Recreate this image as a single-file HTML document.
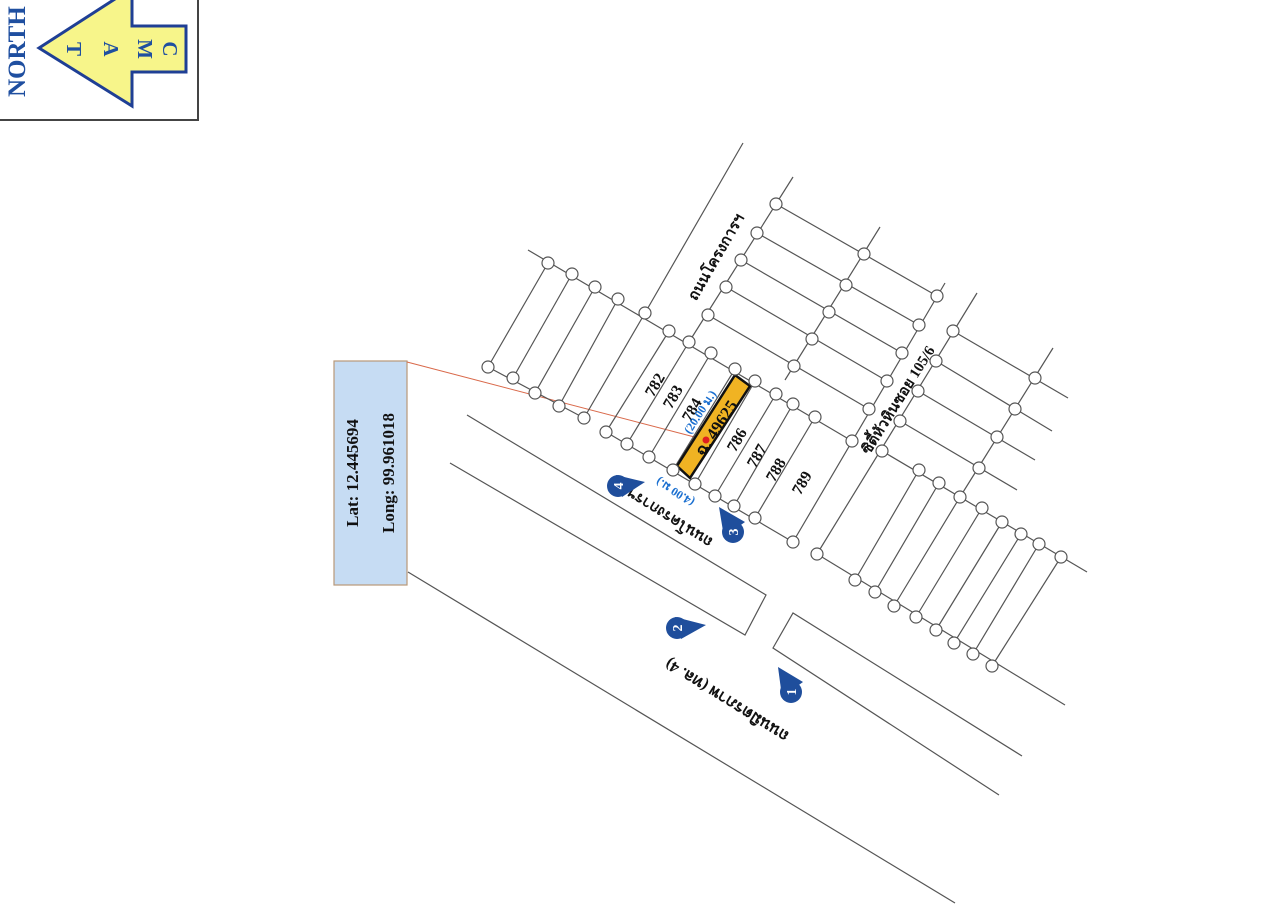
<!DOCTYPE html>
<html><head><meta charset="utf-8"><style>
html,body{margin:0;padding:0;background:#fff;}
svg{display:block;}
text{font-family:"Liberation Serif","Noto Serif CJK SC",serif;font-weight:bold;}
</style></head><body>
<svg width="1280" height="914" viewBox="0 0 1280 914" xmlns="http://www.w3.org/2000/svg">
<rect width="1280" height="914" fill="#fff"/>
<path d="M198 0 V120 H0" fill="none" stroke="#444" stroke-width="2"/>
<text transform="translate(25,97) rotate(-90)" font-size="25" fill="#1f4fa0">NORTH</text>
<polygon points="39,48 132,-12 132,26 186,26 186,72 132,72 132,106" fill="#f7f58a" stroke="#1f3f95" stroke-width="3"/>
<g fill="#1f4fa0" font-size="21">
<text transform="translate(67,49) rotate(90)" text-anchor="middle">T</text>
<text transform="translate(104,49) rotate(90)" text-anchor="middle">A</text>
<text transform="translate(138,49) rotate(90)" text-anchor="middle">M</text>
<text transform="translate(163,49) rotate(90)" text-anchor="middle">C</text>
</g>
<rect x="334" y="361" width="73" height="224" fill="#c6dcf3" stroke="#b89878" stroke-width="1.2"/>
<text transform="translate(358,473) rotate(-90)" text-anchor="middle" font-size="17" fill="#111">Lat: 12.445694</text>
<text transform="translate(394,473) rotate(-90)" text-anchor="middle" font-size="17" fill="#111">Long: 99.961018</text>
<line x1="407" y1="362" x2="706" y2="440" stroke="#d9694a" stroke-width="1"/>

<g stroke="#555" stroke-width="1.2" fill="none">
<polyline points="467,415 766,595 745,635 450,463"/>
<line x1="408" y1="572" x2="955" y2="903"/>
<polyline points="1022,756 793,613 773,648 999,795"/>
<line x1="743" y1="143" x2="645" y2="313"/>
<line x1="528" y1="250" x2="852" y2="441"/>
<line x1="488" y1="367" x2="584" y2="418"/>
<line x1="548" y1="263" x2="488" y2="367"/>
<line x1="572" y1="274" x2="513" y2="378"/>
<line x1="595" y1="287" x2="535" y2="393"/>
<line x1="618" y1="299" x2="559" y2="406"/>
<line x1="645" y1="313" x2="584" y2="418"/>
<line x1="606" y1="432" x2="793" y2="542"/>
<line x1="669" y1="331" x2="606" y2="432"/>
<line x1="689" y1="342" x2="627" y2="444"/>
<line x1="711" y1="353" x2="649" y2="457"/>
<line x1="735" y1="369" x2="673" y2="470"/>
<line x1="755" y1="381" x2="695" y2="484"/>
<line x1="776" y1="394" x2="715" y2="496"/>
<line x1="793" y1="404" x2="734" y2="506"/>
<line x1="815" y1="417" x2="755" y2="518"/>
<line x1="793" y1="177" x2="689" y2="342"/>
<line x1="880" y1="227" x2="785" y2="380"/>
<line x1="945" y1="283" x2="793" y2="542"/>
<line x1="776" y1="204" x2="937" y2="296"/>
<line x1="757" y1="233" x2="919" y2="325"/>
<line x1="741" y1="260" x2="902" y2="353"/>
<line x1="726" y1="287" x2="887" y2="381"/>
<line x1="708" y1="315" x2="869" y2="409"/>
<line x1="977" y1="293" x2="817" y2="554"/>
<line x1="1053" y1="348" x2="960" y2="497"/>
<line x1="953" y1="331" x2="1068" y2="398"/>
<line x1="936" y1="361" x2="1052" y2="431"/>
<line x1="918" y1="391" x2="1035" y2="460"/>
<line x1="900" y1="421" x2="1017" y2="490"/>
<line x1="882" y1="451" x2="1087" y2="572"/>
<line x1="817" y1="554" x2="1065" y2="705"/>
<line x1="919" y1="470" x2="855" y2="580"/>
<line x1="939" y1="483" x2="875" y2="592"/>
<line x1="960" y1="497" x2="894" y2="606"/>
<line x1="982" y1="508" x2="916" y2="617"/>
<line x1="1002" y1="522" x2="936" y2="630"/>
<line x1="1021" y1="534" x2="954" y2="643"/>
<line x1="1039" y1="544" x2="973" y2="654"/>
<line x1="1061" y1="557" x2="992" y2="666"/>
</g>
<polygon points="735,375 750,386 690,478 677,466" fill="#f0b323" stroke="#111" stroke-width="2.5"/>
<g fill="#fff" stroke="#555" stroke-width="1.2">
<circle cx="548" cy="263" r="6"/><circle cx="572" cy="274" r="6"/><circle cx="595" cy="287" r="6"/><circle cx="618" cy="299" r="6"/><circle cx="645" cy="313" r="6"/>
<circle cx="488" cy="367" r="6"/><circle cx="513" cy="378" r="6"/><circle cx="535" cy="393" r="6"/><circle cx="559" cy="406" r="6"/><circle cx="584" cy="418" r="6"/>
<circle cx="669" cy="331" r="6"/><circle cx="689" cy="342" r="6"/><circle cx="711" cy="353" r="6"/><circle cx="735" cy="369" r="6"/><circle cx="755" cy="381" r="6"/><circle cx="776" cy="394" r="6"/><circle cx="793" cy="404" r="6"/><circle cx="815" cy="417" r="6"/>
<circle cx="606" cy="432" r="6"/><circle cx="627" cy="444" r="6"/><circle cx="649" cy="457" r="6"/><circle cx="673" cy="470" r="6"/><circle cx="695" cy="484" r="6"/><circle cx="715" cy="496" r="6"/><circle cx="734" cy="506" r="6"/><circle cx="755" cy="518" r="6"/><circle cx="793" cy="542" r="6"/>
<circle cx="776" cy="204" r="6"/><circle cx="757" cy="233" r="6"/><circle cx="741" cy="260" r="6"/><circle cx="726" cy="287" r="6"/><circle cx="708" cy="315" r="6"/>
<circle cx="864" cy="254" r="6"/><circle cx="846" cy="285" r="6"/><circle cx="829" cy="312" r="6"/><circle cx="812" cy="339" r="6"/><circle cx="794" cy="366" r="6"/>
<circle cx="937" cy="296" r="6"/><circle cx="919" cy="325" r="6"/><circle cx="902" cy="353" r="6"/><circle cx="887" cy="381" r="6"/><circle cx="869" cy="409" r="6"/><circle cx="852" cy="441" r="6"/>
<circle cx="953" cy="331" r="6"/><circle cx="936" cy="361" r="6"/><circle cx="918" cy="391" r="6"/><circle cx="900" cy="421" r="6"/><circle cx="882" cy="451" r="6"/><circle cx="817" cy="554" r="6"/>
<circle cx="1035" cy="378" r="6"/><circle cx="1015" cy="409" r="6"/><circle cx="997" cy="437" r="6"/><circle cx="979" cy="468" r="6"/>
<circle cx="919" cy="470" r="6"/><circle cx="939" cy="483" r="6"/><circle cx="960" cy="497" r="6"/><circle cx="982" cy="508" r="6"/><circle cx="1002" cy="522" r="6"/><circle cx="1021" cy="534" r="6"/><circle cx="1039" cy="544" r="6"/><circle cx="1061" cy="557" r="6"/>
<circle cx="855" cy="580" r="6"/><circle cx="875" cy="592" r="6"/><circle cx="894" cy="606" r="6"/><circle cx="916" cy="617" r="6"/><circle cx="936" cy="630" r="6"/><circle cx="954" cy="643" r="6"/><circle cx="973" cy="654" r="6"/><circle cx="992" cy="666" r="6"/>
</g>
<circle cx="706" cy="440" r="3.5" fill="#e02020"/>
<g font-size="16" fill="#111">
<text transform="translate(655,385) rotate(-60)" text-anchor="middle" dy="5">782</text>
<text transform="translate(673,397) rotate(-60)" text-anchor="middle" dy="5">783</text>
<text transform="translate(692,410) rotate(-60)" text-anchor="middle" dy="5">784</text>
<text transform="translate(737,440) rotate(-60)" text-anchor="middle" dy="5">786</text>
<text transform="translate(757,456) rotate(-60)" text-anchor="middle" dy="5">787</text>
<text transform="translate(776,470) rotate(-60)" text-anchor="middle" dy="5">788</text>
<text transform="translate(802,483) rotate(-60)" text-anchor="middle" dy="5">789</text>
<text transform="translate(716,428) rotate(-57)" text-anchor="middle" dy="6" font-size="17">ฉ. 49625</text>
<text transform="translate(716,257) rotate(-60)" text-anchor="middle" dy="5" font-size="15">ถนนโครงการฯ</text>
<text transform="translate(898,400) rotate(-58)" text-anchor="middle" dy="5" font-size="15">ซิตี้หัวหินซอย 105/6</text>
<text transform="translate(670,518) rotate(212)" text-anchor="middle" dy="5" font-size="15">ถนนโครงการฯ</text>
<text transform="translate(727,700) rotate(212)" text-anchor="middle" dy="5" font-size="16">ถนนมิตรภาพ (ทล. 4)</text>
</g>
<g font-size="12" fill="#1a6fd0">
<text transform="translate(700,412) rotate(-57)" text-anchor="middle" dy="4">(20.00 ม.)</text>
<text transform="translate(675,492) rotate(212)" text-anchor="middle" dy="4">(4.00 ม.)</text>
</g>
<g fill="#1f4e9c">
<circle cx="618" cy="486" r="11"/><polygon points="616,475 645,482 622,497"/>
<circle cx="677" cy="628" r="11"/><polygon points="675,617 706,625 681,639"/>
<circle cx="733" cy="532" r="11"/><polygon points="719,507 745,522 724,537"/>
<circle cx="791" cy="692" r="11"/><polygon points="778,667 803,682 782,697"/>
</g>
<g fill="#fff" font-size="14" text-anchor="middle">
<text transform="translate(618,486) rotate(-90)" dy="5">4</text>
<text transform="translate(677,628) rotate(-90)" dy="5">2</text>
<text transform="translate(733,532) rotate(-90)" dy="5">3</text>
<text transform="translate(791,692) rotate(-90)" dy="5">1</text>
</g>
</svg>
</body></html>
